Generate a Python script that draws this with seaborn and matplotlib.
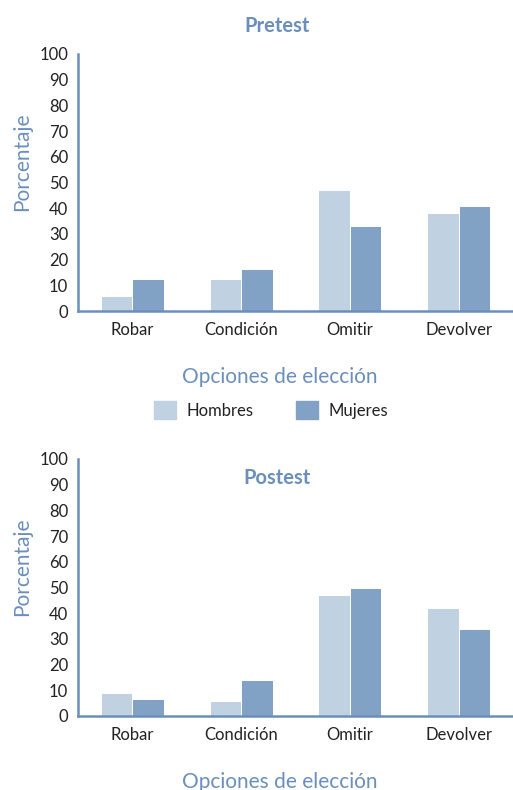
import matplotlib
matplotlib.use("Agg")
import matplotlib.pyplot as plt
import matplotlib.patches as mpatches
import pandas as pd
import seaborn as sns

# values
opciones = ["Robar", "Condición", "Omitir", "Devolver"]
sexos = ["Hombres", "Mujeres"]
pretest_hombres = [6, 12.5, 47, 38]
pretest_mujeres = [12.5, 16.5, 33, 41]
postest_hombres = [9, 6, 47, 42]
postest_mujeres = [6.5, 14, 50, 34]

light = "#c0d1e2"
dark = "#81a2c5"
blue = "#6a8fbd"
text_col = "#222222"

sns.set_theme(style="white")
plt.rcParams["font.family"] = ["Lato", "DejaVu Sans"]


def long_df(hombres, mujeres):
    rows = []
    for op, h, m in zip(opciones, hombres, mujeres):
        rows.append({"opcion": op, "sexo": "Hombres", "porcentaje": h})
        rows.append({"opcion": op, "sexo": "Mujeres", "porcentaje": m})
    return pd.DataFrame(rows)


fig = plt.figure(figsize=(5.13, 7.9), dpi=100)
W, H = 513, 790


def draw(ax, df):
    sns.barplot(data=df, x="opcion", y="porcentaje", hue="sexo", order=opciones,
                hue_order=sexos, palette=[light, dark], saturation=1, width=0.58,
                edgecolor="white", linewidth=0.7, legend=False, ax=ax)
    ax.set_ylim(0, 100)
    ax.set_xlim(-0.5, 3.5)
    ax.set_yticks(range(0, 101, 10))
    sns.despine(ax=ax)
    for s in ["left", "bottom"]:
        ax.spines[s].set_color(blue)
        ax.spines[s].set_linewidth(1.8)
    ax.tick_params(axis="both", length=0, labelsize=12, colors=text_col)
    ax.tick_params(axis="y", pad=7)
    ax.tick_params(axis="x", pad=8)
    ax.set_ylabel("Porcentaje", fontsize=15, color=blue)
    ax.yaxis.set_label_coords(-0.129, 0.58)
    ax.yaxis.label.set_va("center")
    ax.set_xlabel("Opciones de elección", fontsize=15, color=blue)
    ax.xaxis.set_label_coords(0.464, -0.257)
    ax.xaxis.label.set_va("center")


ax1 = fig.add_axes([78 / W, 1 - 311 / H, 435 / W, 257 / H])
draw(ax1, long_df(pretest_hombres, pretest_mujeres))
ax2 = fig.add_axes([78 / W, 1 - 716 / H, 435 / W, 257 / H])
draw(ax2, long_df(postest_hombres, postest_mujeres))

fig.text(277 / W, 1 - 26 / H, "Pretest", ha="center", va="center",
         fontsize=14.5, fontweight="bold", color=blue)
fig.text(277 / W, 1 - 478 / H, "Postest", ha="center", va="center",
         fontsize=14.5, fontweight="bold", color=blue)

handles = [mpatches.Patch(color=light, label="Hombres"),
           mpatches.Patch(color=dark, label="Mujeres")]
fig.legend(handles=handles, loc="center", bbox_to_anchor=(271 / W, 1 - 410 / H),
           ncol=2, frameon=False, fontsize=12, handlelength=1.35, handleheight=1.35,
           handletextpad=0.65, columnspacing=2.5, labelcolor=text_col)

fig.savefig("out.png", dpi=100)
